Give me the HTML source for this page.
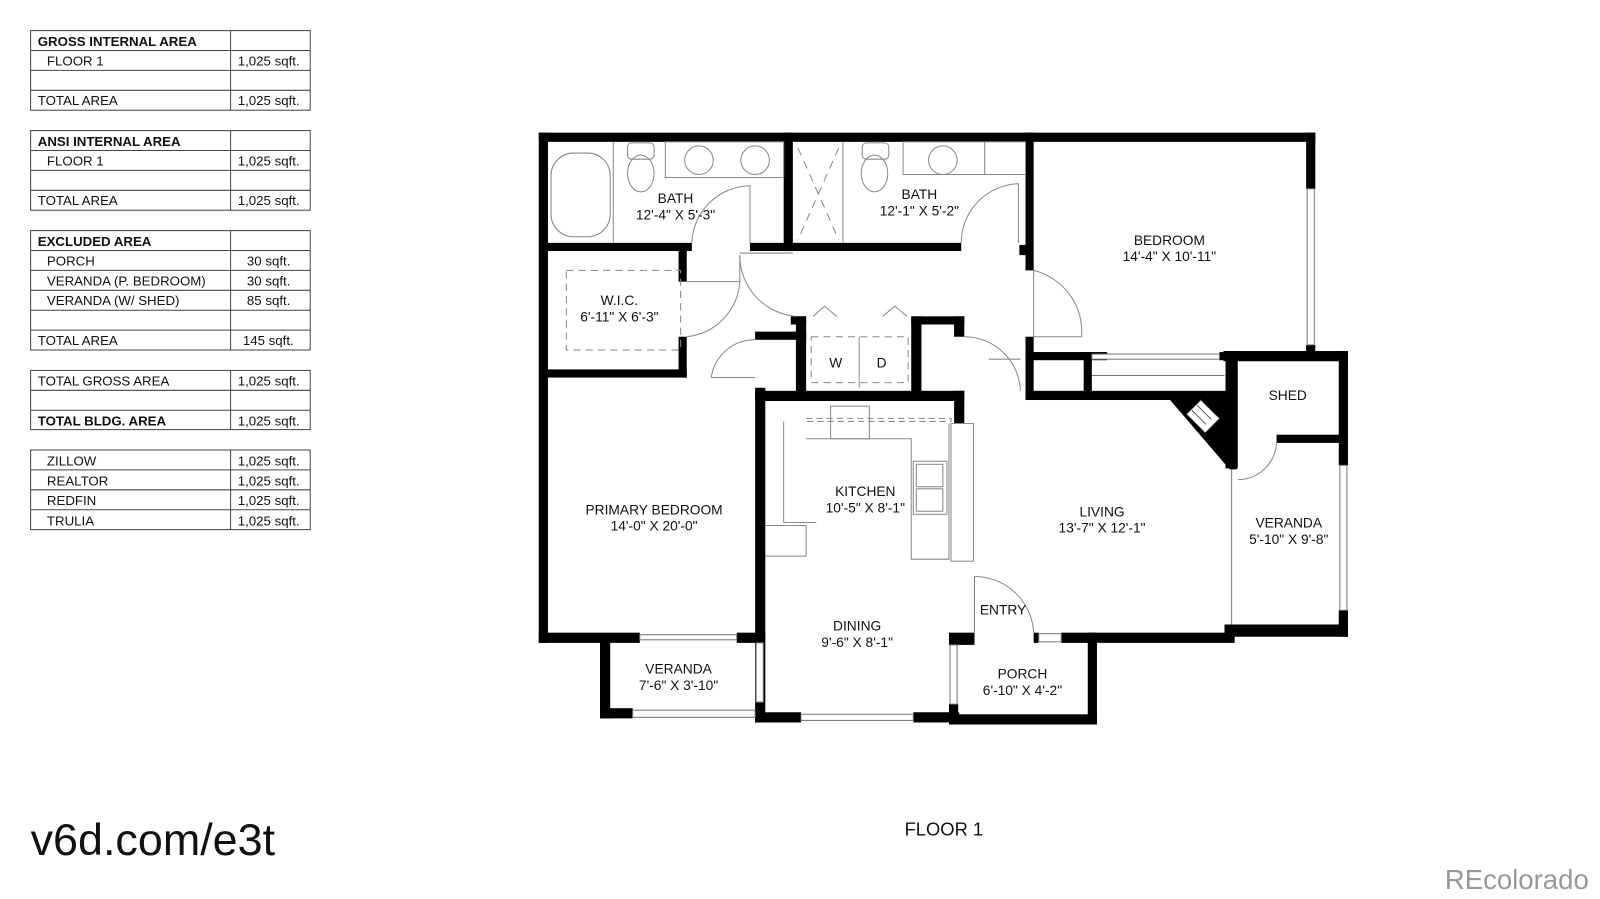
<!DOCTYPE html>
<html><head><meta charset="utf-8"><style>
html,body{margin:0;padding:0;background:#fff;width:1600px;height:899px;overflow:hidden}
svg{display:block}
text{font-family:"Liberation Sans",Arial,sans-serif;fill:#111}
</style></head><body>
<svg width="1600" height="899" viewBox="0 0 1568 881" preserveAspectRatio="none" xmlns="http://www.w3.org/2000/svg">
<rect width="1568" height="881" fill="#fff"/>
<g stroke="#444" stroke-width="1" fill="none">
<rect x="30" y="30" width="274" height="78"/><line x1="226" y1="30" x2="226" y2="108"/>
<line x1="30" y1="49.5" x2="304" y2="49.5"/><line x1="30" y1="69" x2="304" y2="69"/><line x1="30" y1="88.5" x2="304" y2="88.5"/>
<rect x="30" y="128" width="274" height="78"/><line x1="226" y1="128" x2="226" y2="206"/>
<line x1="30" y1="147.5" x2="304" y2="147.5"/><line x1="30" y1="167" x2="304" y2="167"/><line x1="30" y1="186.5" x2="304" y2="186.5"/>
<rect x="30" y="226" width="274" height="117"/><line x1="226" y1="226" x2="226" y2="343"/>
<line x1="30" y1="245.5" x2="304" y2="245.5"/><line x1="30" y1="265" x2="304" y2="265"/><line x1="30" y1="284.5" x2="304" y2="284.5"/><line x1="30" y1="304" x2="304" y2="304"/><line x1="30" y1="323.5" x2="304" y2="323.5"/>
<rect x="30" y="363" width="274" height="58"/><line x1="226" y1="363" x2="226" y2="421"/>
<line x1="30" y1="382.5" x2="304" y2="382.5"/><line x1="30" y1="402" x2="304" y2="402"/>
<rect x="30" y="441" width="274" height="78"/><line x1="226" y1="441" x2="226" y2="519"/>
<line x1="30" y1="460.5" x2="304" y2="460.5"/><line x1="30" y1="480" x2="304" y2="480"/><line x1="30" y1="499.5" x2="304" y2="499.5"/>
</g>
<g font-size="13">
<text x="37" y="45" font-weight="bold">GROSS INTERNAL AREA</text>
<text x="46" y="64">FLOOR 1</text><text x="233" y="64">1,025 sqft.</text>
<text x="37" y="103">TOTAL AREA</text><text x="233" y="103">1,025 sqft.</text>
<text x="37" y="143" font-weight="bold">ANSI INTERNAL AREA</text>
<text x="46" y="162">FLOOR 1</text><text x="233" y="162">1,025 sqft.</text>
<text x="37" y="201">TOTAL AREA</text><text x="233" y="201">1,025 sqft.</text>
<text x="37" y="241" font-weight="bold">EXCLUDED AREA</text>
<text x="46" y="260">PORCH</text><text x="242" y="260">30 sqft.</text>
<text x="46" y="280">VERANDA (P. BEDROOM)</text><text x="242" y="280">30 sqft.</text>
<text x="46" y="299">VERANDA (W/ SHED)</text><text x="242" y="299">85 sqft.</text>
<text x="37" y="338">TOTAL AREA</text><text x="238" y="338">145 sqft.</text>
<text x="37" y="378">TOTAL GROSS AREA</text><text x="233" y="378">1,025 sqft.</text>
<text x="37" y="417" font-weight="bold">TOTAL BLDG. AREA</text><text x="233" y="417">1,025 sqft.</text>
<text x="46" y="456">ZILLOW</text><text x="233" y="456">1,025 sqft.</text>
<text x="46" y="476">REALTOR</text><text x="233" y="476">1,025 sqft.</text>
<text x="46" y="495">REDFIN</text><text x="233" y="495">1,025 sqft.</text>
<text x="46" y="515">TRULIA</text><text x="233" y="515">1,025 sqft.</text>
</g>
<g fill="#000">
<rect x="528" y="130" width="761" height="9"/>
<rect x="528" y="130" width="9" height="500"/>
<rect x="1280" y="130" width="9" height="55"/><rect x="1280" y="338" width="9" height="14"/>
<rect x="528" y="620" width="99" height="10"/><rect x="722" y="620" width="28" height="10"/>
<rect x="588" y="627" width="10" height="77"/><rect x="588" y="694" width="32" height="10"/>
<rect x="740" y="380" width="10" height="328"/>
<rect x="740" y="698" width="45" height="10"/><rect x="895" y="698" width="45" height="10"/>
<rect x="930" y="620" width="25" height="12"/><rect x="930" y="690" width="9" height="20"/>
<rect x="930" y="700" width="145" height="10"/>
<rect x="1066" y="620" width="9" height="90"/>
<rect x="1013" y="620" width="5" height="10"/><rect x="1040" y="620" width="170" height="10"/>
<rect x="1200" y="612" width="121" height="12"/>
<rect x="1312" y="344" width="9" height="112"/><rect x="1312" y="598" width="9" height="26"/>
<rect x="1199" y="344" width="122" height="10"/>
<rect x="1201" y="344" width="12" height="115"/>
<rect x="1251" y="426" width="63" height="8"/>
<rect x="1005" y="130" width="8" height="135"/><rect x="999" y="240" width="8" height="10"/>
<rect x="1005" y="330" width="8" height="62"/>
<rect x="1005" y="345" width="80" height="8"/><rect x="1195" y="345" width="17" height="8"/>
<rect x="1062" y="345" width="8" height="47"/>
<rect x="1005" y="383" width="205" height="9"/>
<polygon points="1145,390 1212,390 1212,460 1205,460"/>
<rect x="768" y="130" width="9" height="116"/>
<rect x="537" y="238" width="141" height="8"/>
<rect x="735" y="238" width="42" height="8"/><rect x="777" y="238" width="165" height="8"/>
<rect x="665" y="246" width="8" height="30"/><rect x="665" y="330" width="8" height="40"/>
<rect x="537" y="362" width="136" height="8"/>
<rect x="740" y="325" width="50" height="8"/><rect x="780" y="310" width="10" height="75"/><rect x="775" y="310" width="15" height="8"/>
<rect x="893" y="310" width="10" height="75"/><rect x="893" y="310" width="52" height="8"/>
<rect x="935" y="310" width="10" height="20"/>
<rect x="935" y="383" width="10" height="32"/>
<rect x="740" y="383" width="205" height="10"/>
</g>
<g fill="#fff" stroke="#333" stroke-width="0.8">
<rect x="1169" y="395" width="20" height="26" transform="rotate(-45 1179 408)"/>
<path d="M1168 402 L1182 416 M1173 397 L1187 411 M1178 393 L1192 407" transform="rotate(0)"/>
</g>
<g fill="#fff" stroke="#777" stroke-width="1">
<rect x="1281" y="185" width="7" height="153"/>
<rect x="1313" y="456" width="7" height="142"/>
<rect x="620" y="696" width="120" height="7"/>
<rect x="785" y="700" width="110" height="6"/>
<rect x="741" y="630" width="7" height="58"/>
<rect x="931" y="632" width="7" height="58"/>
<rect x="1018" y="621" width="22" height="8"/>
<rect x="627" y="622" width="95" height="5"/>
<rect x="1070" y="347" width="125" height="5"/>
<line x1="1070" y1="368" x2="1200" y2="368"/>
<line x1="1207" y1="460" x2="1207" y2="612"/>
<line x1="955" y1="565" x2="955" y2="620"/>
</g>
<g fill="none" stroke="#888" stroke-width="1">
<path d="M955 565 A58 58 0 0 1 1013 620"/>
<path d="M1213 470 A38 38 0 0 0 1251 434"/>
<path d="M678 238 A58 58 0 0 1 735 182 L735 238"/>
<path d="M942 238 A58 58 0 0 1 998 180 L998 238"/>
<path d="M725 250 A60 60 0 0 0 780 310"/>
<path d="M673 276 L725 276 L725 250 M673 330 A58 58 0 0 0 725 276"/>
<path d="M697 370 A43 43 0 0 1 740 333 M697 370 L740 370"/>
<path d="M1013 265 L1013 330 M1013 265 A62 62 0 0 1 1060 330 L1013 330"/>
<path d="M945 330 A55 55 0 0 1 1000 383 M969 352 L1000 352"/>
<line x1="725" y1="248" x2="777" y2="248"/>
<rect x="790" y="410" width="142" height="3" stroke-dasharray="6 4"/>
<path d="M768 413 L768 512 L800 512 M790 430 L893 430 L893 548 L930 548 L930 415"/>
<path d="M750 515 L790 515 L790 545 L750 545"/>
<rect x="932" y="415" width="22" height="135"/>
<rect x="895" y="452" width="33" height="52"/>
<rect x="898" y="455" width="26" height="22"/><rect x="898" y="479" width="26" height="22"/>
<rect x="814" y="398" width="38" height="32"/>
<rect x="555" y="265" width="112" height="78" stroke-dasharray="7 5"/>
<rect x="795" y="330" width="95" height="45" stroke-dasharray="7 5"/>
<line x1="842" y1="330" x2="842" y2="380"/>
<path d="M797 310 L808 300 L820 310 M865 310 L877 300 L889 310"/>
<rect x="540" y="150" width="58" height="82" rx="22"/>
<line x1="601" y1="139" x2="601" y2="238"/>
<rect x="652" y="139" width="116" height="35"/>
<circle cx="685" cy="157" r="14"/><circle cx="740" cy="157" r="14"/>
<ellipse cx="628" cy="170" rx="13" ry="18"/><rect x="615" y="140" width="26" height="16" rx="4"/>
<line x1="826" y1="139" x2="826" y2="238"/>
<path d="M782 145 L822 235 M822 145 L782 235" stroke-dasharray="8 6"/>
<rect x="885" y="139" width="120" height="32"/><circle cx="924" cy="157" r="14"/><line x1="965" y1="139" x2="965" y2="171"/>
<ellipse cx="857" cy="170" rx="13" ry="18"/><rect x="845" y="140" width="26" height="16" rx="4"/>
</g>
<g font-size="13.5" text-anchor="middle">
<text x="662" y="199">BATH</text><text x="662" y="215">12'-4" X 5'-3"</text>
<text x="901" y="195">BATH</text><text x="901" y="211">12'-1" X 5'-2"</text>
<text x="1146" y="240">BEDROOM</text><text x="1146" y="256">14'-4" X 10'-11"</text>
<text x="607" y="299">W.I.C.</text><text x="607" y="315">6'-11" X 6'-3"</text>
<text x="819" y="360">W</text><text x="864" y="360">D</text>
<text x="1262" y="392">SHED</text>
<text x="848" y="486">KITCHEN</text><text x="848" y="502">10'-5" X 8'-1"</text>
<text x="641" y="504">PRIMARY BEDROOM</text><text x="641" y="520">14'-0" X 20'-0"</text>
<text x="1080" y="506">LIVING</text><text x="1080" y="522">13'-7" X 12'-1"</text>
<text x="1263" y="517">VERANDA</text><text x="1263" y="533">5'-10" X 9'-8"</text>
<text x="983" y="602">ENTRY</text>
<text x="840" y="618">DINING</text><text x="840" y="634">9'-6" X 8'-1"</text>
<text x="1002" y="665">PORCH</text><text x="1002" y="681">6'-10" X 4'-2"</text>
<text x="665" y="660">VERANDA</text><text x="665" y="676">7'-6" X 3'-10"</text>
<text x="925" y="819" font-size="18">FLOOR 1</text>
</g>
<text x="30" y="838" font-size="44">v6d.com/e3t</text>
<text x="1557" y="871" font-size="27" text-anchor="end" style="fill:#999">REcolorado</text>
</svg>
</body></html>
